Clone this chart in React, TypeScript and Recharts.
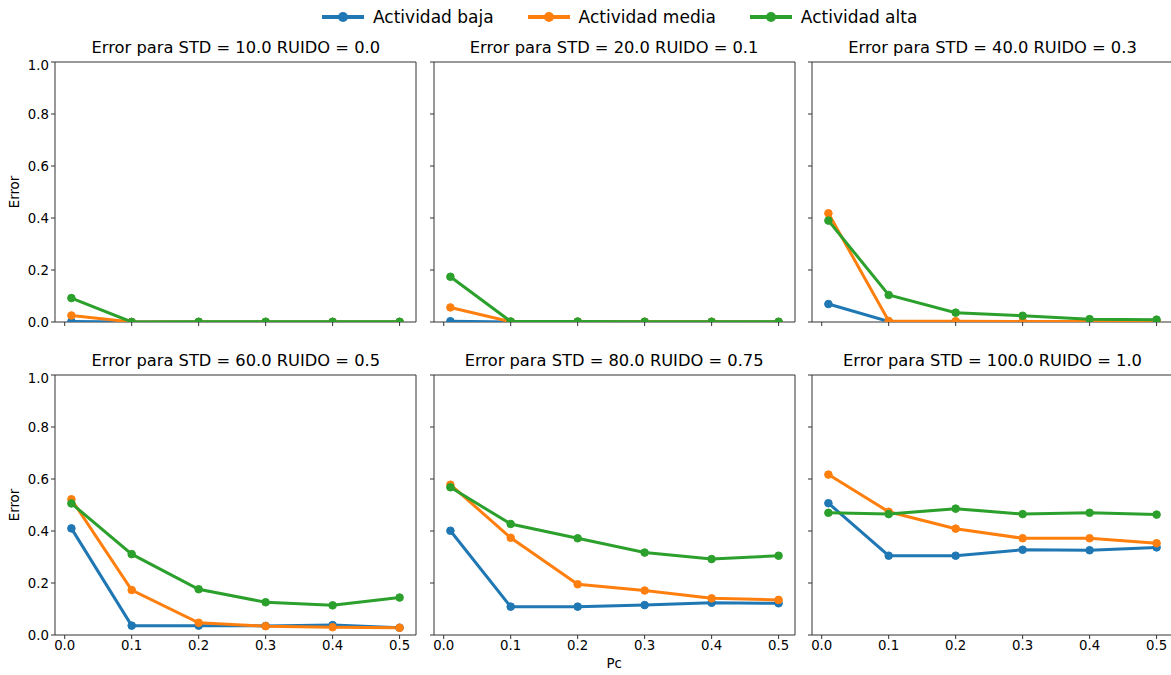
import { LineChart, Line, XAxis, YAxis, ReferenceArea } from 'recharts';

const pc = [0.01, 0.1, 0.2, 0.3, 0.4, 0.5];
const xTicks = [0, 0.1, 0.2, 0.3, 0.4, 0.5];
const yTicks = [0, 0.2, 0.4, 0.6, 0.8, 1.0];

const titles = [
  'Error para STD = 10.0 RUIDO = 0.0',
  'Error para STD = 20.0 RUIDO = 0.1',
  'Error para STD = 40.0 RUIDO = 0.3',
  'Error para STD = 60.0 RUIDO = 0.5',
  'Error para STD = 80.0 RUIDO = 0.75',
  'Error para STD = 100.0 RUIDO = 1.0',
];

// one list per panel
const baja = [
  [0.002, 0, 0, 0, 0, 0],
  [0.003, 0, 0, 0, 0, 0],
  [0.069, 0.002, 0.001, 0.001, 0.001, 0.001],
  [0.41, 0.036, 0.036, 0.035, 0.038, 0.028],
  [0.401, 0.109, 0.109, 0.115, 0.124, 0.122],
  [0.507, 0.305, 0.305, 0.328, 0.326, 0.337],
];
const media = [
  [0.025, 0, 0, 0, 0, 0],
  [0.056, 0.001, 0.001, 0.001, 0.001, 0],
  [0.418, 0.004, 0.003, 0.002, 0.002, 0.002],
  [0.522, 0.173, 0.047, 0.034, 0.03, 0.028],
  [0.578, 0.374, 0.195, 0.171, 0.141, 0.135],
  [0.617, 0.474, 0.409, 0.372, 0.372, 0.353],
];
const alta = [
  [0.092, 0, 0.001, 0.001, 0.001, 0.001],
  [0.174, 0.002, 0.002, 0.001, 0.001, 0.001],
  [0.39, 0.104, 0.036, 0.024, 0.011, 0.009],
  [0.506, 0.311, 0.176, 0.126, 0.114, 0.144],
  [0.568, 0.427, 0.372, 0.317, 0.292, 0.305],
  [0.47, 0.465, 0.486, 0.465, 0.47, 0.463],
];

const SERIES = [
  { key: 'baja', name: 'Actividad baja', color: '#1f77b4' },
  { key: 'media', name: 'Actividad media', color: '#ff7f0e' },
  { key: 'alta', name: 'Actividad alta', color: '#2ca02c' },
];

const X_DOMAIN: [number, number] = [-0.0145, 0.5245];
const COL_LEFT = [55.3, 433.6, 812];
const ROW_TOP = [61.7, 374.5];
const PW = 361;
const PH = 260;
const YW = 50;
const XH = 30;

function Panel({ idx }: { idx: number }) {
  const col = idx % 3;
  const row = Math.floor(idx / 3);
  const rows = pc.map((x, i) => ({ pc: x, baja: baja[idx][i], media: media[idx][i], alta: alta[idx][i] }));
  const left = COL_LEFT[col];
  const top = ROW_TOP[row];
  const tickStyle = { fontSize: 13.3, fill: '#000' };

  return (
    <>
      <div
        style={{
          position: 'absolute',
          left,
          width: PW,
          top: top - 24,
          textAlign: 'center',
          fontSize: 16.3,
          lineHeight: '20px',
          whiteSpace: 'nowrap',
        }}
      >
        {titles[idx]}
      </div>
      <div style={{ position: 'absolute', left: left - YW, top: top - 5 }}>
        <LineChart
          width={PW + YW + 5}
          height={PH + 5 + XH}
          data={rows}
          margin={{ top: 5, right: 5, left: 0, bottom: 0 }}
          style={{ fontSize: 13.3 }}
        >
          <XAxis
            dataKey="pc"
            type="number"
            domain={X_DOMAIN}
            ticks={xTicks}
            allowDataOverflow
            height={XH}
            axisLine={false}
            tickSize={4}
            fontSize={13.3}
            tickLine={{ stroke: '#333' }}
            tick={tickStyle}
            tickFormatter={(v: number) => (row === 1 ? v.toFixed(1) : '')}
          />
          <YAxis
            type="number"
            domain={[0, 1]}
            ticks={yTicks}
            allowDataOverflow
            width={YW}
            axisLine={false}
            tickSize={4}
            fontSize={13.3}
            tickLine={{ stroke: '#333' }}
            tick={tickStyle}
            tickFormatter={(v: number) => (col === 0 ? v.toFixed(1) : '')}
          />
          {SERIES.map((s) => (
            <Line
              key={s.key}
              dataKey={s.key}
              stroke={s.color}
              strokeWidth={3}
              dot={{ r: 3.8, fill: s.color, stroke: s.color, strokeWidth: 1 }}
              activeDot={false}
              isAnimationActive={false}
            />
          ))}
          <ReferenceArea
            x1={X_DOMAIN[0]}
            x2={X_DOMAIN[1]}
            y1={0}
            y2={1}
            fill="none"
            stroke="#333"
            strokeWidth={1}
            ifOverflow="visible"
          />
        </LineChart>
      </div>
      {col === 0 && (
        <div
          style={{
            position: 'absolute',
            left: 15 - 30,
            top: top + PH / 2 - 10,
            width: 60,
            textAlign: 'center',
            fontSize: 13.3,
            lineHeight: '20px',
            transform: 'rotate(-90deg)',
          }}
        >
          Error
        </div>
      )}
    </>
  );
}

function Legend() {
  return (
    <div
      style={{
        position: 'absolute',
        left: 322,
        top: 6,
        display: 'flex',
        alignItems: 'center',
        fontSize: 17,
        lineHeight: '22px',
      }}
    >
      {SERIES.map((s, i) => (
        <div key={s.key} style={{ display: 'flex', alignItems: 'center', marginLeft: i === 0 ? 0 : 34 }}>
          <svg width={42} height={12} style={{ marginRight: 9 }}>
            <line x1={0} y1={6} x2={42} y2={6} stroke={s.color} strokeWidth={4} />
            <circle cx={21} cy={6} r={5} fill={s.color} />
          </svg>
          <span>{s.name}</span>
        </div>
      ))}
    </div>
  );
}

export default function App() {
  return (
    <div
      style={{
        position: 'absolute',
        left: 0,
        top: 0,
        width: 1171,
        height: 675,
        overflow: 'hidden',
        background: '#fff',
        fontFamily: '"DejaVu Sans", sans-serif',
        color: '#000',
      }}
    >
      <Legend />
      {titles.map((_, i) => (
        <Panel key={i} idx={i} />
      ))}
      <div
        style={{
          position: 'absolute',
          left: COL_LEFT[1],
          width: PW,
          top: 654,
          textAlign: 'center',
          fontSize: 13.3,
          lineHeight: '20px',
        }}
      >
        Pc
      </div>
    </div>
  );
}
